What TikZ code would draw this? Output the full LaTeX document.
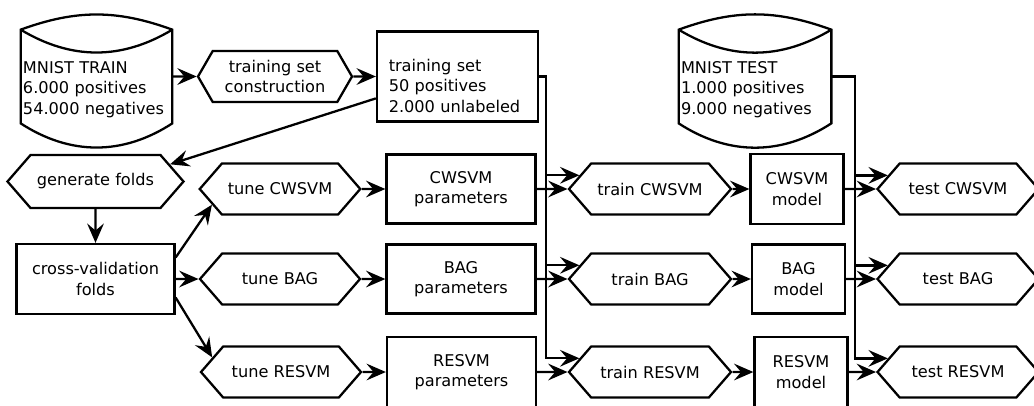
\documentclass[tikz,border=0pt]{standalone}
\usepackage{fontspec}
\setmainfont{DejaVu Sans}
\usetikzlibrary{arrows.meta,shapes.symbols}

\begin{document}
\begin{tikzpicture}[>={Stealth[length=11pt,width=9.5pt,inset=4pt]}, font=\fontsize{9.2}{11.6}\selectfont]

% Fill background
\useasboundingbox (0,0) rectangle (20.68,-8.10);
\fill[white] (0,0) rectangle (20.68,-8.10);

\tikzset{
    data block/.style={
        rectangle, minimum width=3.02cm, minimum height=1.86cm,
        text width=2.94cm, inner xsep=0.04cm, align=left,
        text height=8pt, text depth=11.4pt
    },
    proc block/.style={
        draw, line width=1.3pt, signal, signal from=nowhere,
        signal to=east and west, signal pointer angle=#1,
        minimum height=1.02cm, align=center
    },
    proc block/.default=98,
    file block/.style={
        draw, line width=1.3pt, rectangle, align=center
    },
    wire/.style={line width=1.3pt},
    flow/.style={->, line width=1.3pt}
}

% DATA SOURCES
\node[data block] (D1) at (1.93,-1.53) {MNIST TRAIN\\6.000 positives\\54.000 negatives};
\node[data block, minimum width=3.04cm, text width=2.96cm] (D2) at (15.10,-1.53) {MNIST TEST\\1.000 positives\\9.000 negatives};

% Storage outlines
\draw[wire] (D1.north west) to[bend left=20] (D1.north east) -- (D1.south east)
    to[bend left=33] (D1.south west) -- cycle;
\draw[wire] (D1.north west) to[bend right=31] (D1.north east);
\draw[wire] (D2.north west) to[bend left=20] (D2.north east) -- (D2.south east)
    to[bend left=33] (D2.south west) -- cycle;
\draw[wire] (D2.north west) to[bend right=31] (D2.north east);

% TRAINING SET
\node[proc block=120, minimum width=3.08cm] (C1) at (5.50,-1.53) {training set\\construction};
\node[file block, align=left, minimum width=3.22cm, minimum height=1.80cm,
      text width=2.75cm, inner xsep=0.235cm, text height=7pt, text depth=12.6pt]
      (S1) at (9.15,-1.53) {training set\\50 positives\\2.000 unlabeled};

% FOLDS
\node[proc block, minimum width=3.52cm, minimum height=1.06cm] (G1) at (1.91,-3.63) {generate folds};
\node[file block, minimum width=3.16cm, minimum height=1.40cm] (F1) at (1.91,-5.58) {cross-validation\\folds};

% TUNING
\node[proc block, minimum width=3.20cm] (U1) at (5.60,-3.78) {tune CWSVM};
\node[proc block, minimum width=3.20cm] (U2) at (5.60,-5.58) {tune BAG};
\node[proc block, minimum width=3.20cm] (U3) at (5.62,-7.44) {tune RESVM};

\node[file block, minimum width=2.98cm, minimum height=1.38cm] (P1) at (9.22,-3.78) {CWSVM\\parameters};
\node[file block, minimum width=2.98cm, minimum height=1.38cm] (P2) at (9.22,-5.58) {BAG\\parameters};
\node[file block, minimum width=2.98cm, minimum height=1.40cm] (P3) at (9.23,-7.44) {RESVM\\parameters};

% TRAINING
\node[proc block, minimum width=3.24cm] (T1) at (13.00,-3.78) {train CWSVM};
\node[proc block, minimum width=3.24cm] (T2) at (13.00,-5.58) {train BAG};
\node[proc block, minimum width=3.24cm] (T3) at (13.00,-7.44) {train RESVM};

\node[file block, minimum width=1.86cm, minimum height=1.40cm] (M1) at (15.94,-3.78) {CWSVM\\model};
\node[file block, minimum width=1.86cm, minimum height=1.38cm] (M2) at (15.97,-5.58) {BAG\\model};
\node[file block, minimum width=1.86cm, minimum height=1.40cm] (M3) at (16.02,-7.44) {RESVM\\model};

% TESTING
\node[proc block, minimum width=3.22cm] (X1) at (19.16,-3.78) {test CWSVM};
\node[proc block, minimum width=3.22cm] (X2) at (19.16,-5.58) {test BAG};
\node[proc block, minimum width=3.22cm] (X3) at (19.16,-7.44) {test RESVM};

% --- CONNECTIONS ---

% Training set construction
\draw[flow] (D1) -- (C1);
\draw[flow] (C1) -- (S1);
\draw[flow] (S1.195) -- (G1.13);
\draw[flow] (G1) -- (F1);

% Folds to tuning
\draw[flow] (F1.15) -- (U1.193);
\draw[flow] (F1) -- (U2);
\draw[flow] (F1.-13) -- (U3.168);

% Tuning to parameters
\draw[flow] (U1) -- (P1);
\draw[flow] (U2) -- (P2);
\draw[flow] (U3) -- (P3);

% Parameters to training
\draw[flow] (P1) -- (T1);
\draw[flow] (P2) -- (T2);
\draw[flow] (P3) -- (T3);

% Training to models
\draw[flow] (T1) -- (M1);
\draw[flow] (T2) -- (M2);
\draw[flow] (T3) -- (M3);

% Models to testing
\draw[flow] (M1) -- (X1);
\draw[flow] (M2) -- (X2);
\draw[flow] (M3) -- (X3);

% Training set bus
\coordinate (busA) at (10.92,-1.53);
\draw[flow] (S1.east) -- (busA) |- (T3.169);
\draw[flow] (busA |- T1.169) -- (T1.169);
\draw[flow] (busA |- T2.169) -- (T2.169);

% Test set bus
\coordinate (busB) at (17.10,-1.53);
\draw[flow] (D2.east) -- (busB) |- (X3.169);
\draw[flow] (busB |- X1.169) -- (X1.169);
\draw[flow] (busB |- X2.169) -- (X2.169);

\end{tikzpicture}
\end{document}
